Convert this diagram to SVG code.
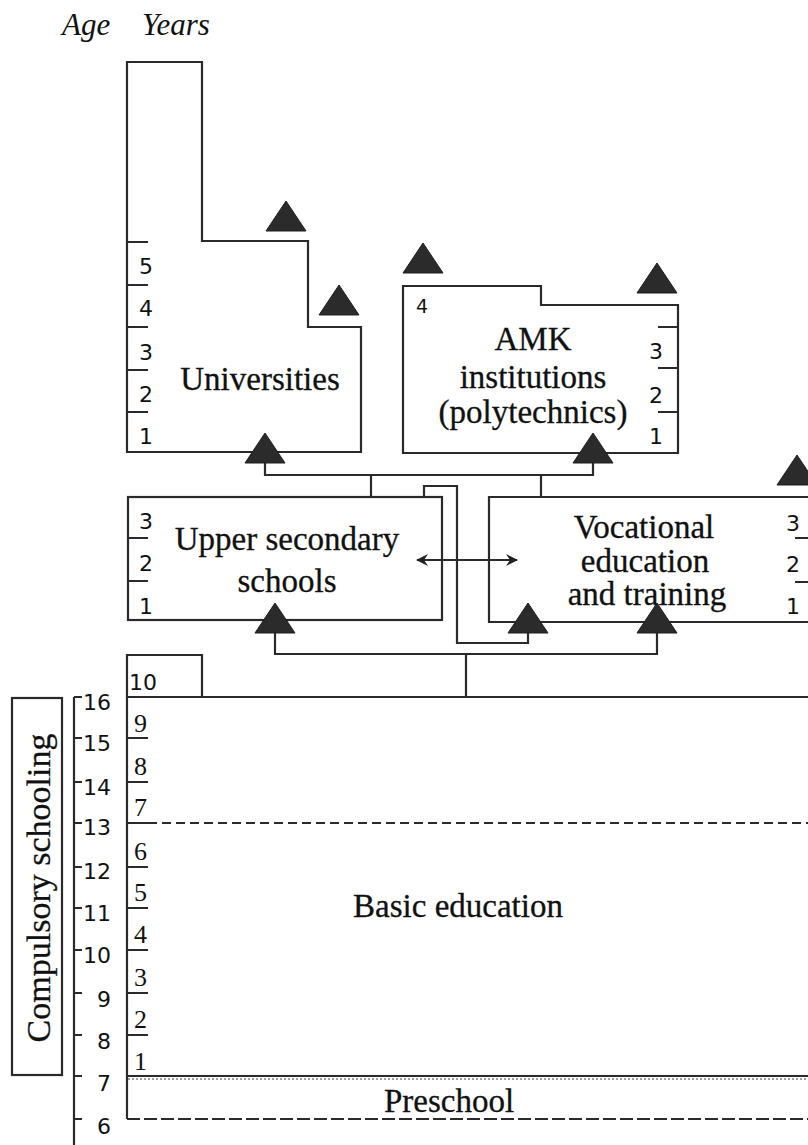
<svg xmlns="http://www.w3.org/2000/svg" xmlns:xlink="http://www.w3.org/1999/xlink" width="808" height="1145" viewBox="0 0 808 1145">
<style>
.ln{fill:none;stroke:#2a2a2a;stroke-width:2.2}
.thin{fill:none;stroke:#444;stroke-width:1}
.lbl{font-family:"Liberation Serif","Times New Roman",serif;font-size:33px;fill:#111;text-anchor:middle;stroke:#111;stroke-width:0.3}
.num{font-family:"DejaVu Sans",Verdana,sans-serif;font-size:22px;fill:#111}
.snum{font-family:"Liberation Serif","Times New Roman",serif;font-size:26px;fill:#111}
.age{font-family:"DejaVu Sans",Verdana,sans-serif;font-size:22px;fill:#111;text-anchor:end}
.ttl{font-family:"Liberation Serif","Times New Roman",serif;font-size:31px;font-style:italic;fill:#111}
.tri{fill:#2b2b2b;stroke:#1e1e1e;stroke-width:1}
</style>
<defs>
<polygon id="tri" points="-20,0 0,-30 20,0"/>
<marker id="ah" viewBox="0 0 12 12" refX="11" refY="6" markerWidth="12" markerHeight="12" orient="auto-start-reverse" markerUnits="userSpaceOnUse">
<path d="M0,0 L12,6 L0,12 L4,6 Z" fill="#222"/>
</marker>
</defs>
<g id="title">
<text class="ttl" x="62" y="35">Age</text>
<text class="ttl" x="142" y="35">Years</text>
</g>
<g id="universities">
<path class="ln" d="M127,452 V62 H202 V241 H308 V327 H361 V452 Z"/>
<path class="ln" d="M127,242 H148 M127,285 H148 M127,327 H148 M127,370 H148 M127,412 H148"/>
<text class="num" x="139" y="274">5</text>
<text class="num" x="139" y="316">4</text>
<text class="num" x="139" y="360">3</text>
<text class="num" x="139" y="402">2</text>
<text class="num" x="139" y="444">1</text>
<text class="lbl" x="260" y="390">Universities</text>
</g>
<g id="amk">
<path class="ln" d="M403,453 V286 H541 V305 H678 V453 Z"/>
<path class="ln" d="M658,327 H678 M658,368 H678 M658,412 H678"/>
<text class="num" x="416" y="313" style="font-size:19px">4</text>
<text class="num" x="649" y="359">3</text>
<text class="num" x="649" y="403">2</text>
<text class="num" x="649" y="444">1</text>
<text class="lbl" x="533" y="350">AMK</text>
<text class="lbl" x="533" y="388">institutions</text>
<text class="lbl" x="533" y="423">(polytechnics)</text>
</g>
<g id="upper-secondary">
<rect class="ln" x="128" y="497" width="314" height="123"/>
<path class="ln" d="M128,538 H148 M128,581 H148"/>
<text class="num" x="139" y="529">3</text>
<text class="num" x="139" y="571">2</text>
<text class="num" x="139" y="614">1</text>
<text class="lbl" x="287" y="550">Upper secondary</text>
<text class="lbl" x="287" y="592">schools</text>
</g>
<g id="vocational">
<path class="ln" d="M808,497 H489 V622 H808"/>
<path class="ln" d="M795,538 H808 M795,582 H808"/>
<text class="num" x="786" y="531">3</text>
<text class="num" x="786" y="572">2</text>
<text class="num" x="786" y="614">1</text>
<text class="lbl" x="644" y="538">Vocational</text>
<text class="lbl" x="645" y="572">education</text>
<text class="lbl" x="647" y="605">and training</text>
</g>
<g id="basic-education">
<path class="ln" d="M127,697 V655 H202 V697"/>
<text class="num" x="129" y="690">10</text>
<path class="ln" d="M808,697 H127 V1076 H808"/>
<path class="ln" d="M127,738 H148 M127,782 H148 M127,823 H148 M127,867 H148 M127,908 H148 M127,950 H148 M127,993 H148 M127,1035 H148"/>
<path class="ln" d="M148,823 H808" stroke-dasharray="9,5"/>
<text class="snum" x="134" y="732">9</text>
<text class="snum" x="134" y="775">8</text>
<text class="snum" x="134" y="816">7</text>
<text class="snum" x="134" y="860">6</text>
<text class="snum" x="134" y="901">5</text>
<text class="snum" x="134" y="943">4</text>
<text class="snum" x="134" y="986">3</text>
<text class="snum" x="134" y="1028">2</text>
<text class="snum" x="134" y="1070">1</text>
<text class="lbl" x="458" y="917">Basic education</text>
</g>
<g id="preschool">
<path class="thin" d="M128,1079 H808" stroke-dasharray="2,2"/>
<path class="ln" d="M127,1076 V1119"/>
<path class="ln" d="M127,1119 H808" stroke-dasharray="13,4"/>
<text class="lbl" x="449" y="1112">Preschool</text>
</g>
<g id="compulsory-schooling">
<rect class="ln" x="12" y="698" width="50" height="377"/>
<text class="lbl" style="font-size:34px" transform="translate(50,888) rotate(-90)" x="0" y="0">Compulsory schooling</text>
</g>
<g id="age-scale">
<path class="ln" d="M74,697 V1145"/>
<path class="ln" d="M74,697 H82 M74,738 H82 M74,782 H82 M74,823 H82 M74,867 H82 M74,908 H82 M74,950 H82 M74,993 H82 M74,1035 H82 M74,1076 H82 M74,1119 H82"/>
<text class="age" x="111" y="710">16</text>
<text class="age" x="111" y="751">15</text>
<text class="age" x="111" y="795">14</text>
<text class="age" x="111" y="835">13</text>
<text class="age" x="111" y="879">12</text>
<text class="age" x="111" y="921">11</text>
<text class="age" x="111" y="963">10</text>
<text class="age" x="111" y="1007">9</text>
<text class="age" x="111" y="1049">8</text>
<text class="age" x="111" y="1091">7</text>
<text class="age" x="111" y="1134">6</text>
</g>
<g id="connectors">
<path class="ln" d="M265,463 V475 H593 V463"/>
<path class="ln" d="M371,475 V497 M541,475 V497"/>
<path class="ln" d="M424,497 V486 H457 V643 H528 V633"/>
<path class="ln" d="M275,633 V654 H657 V633"/>
<path class="ln" d="M466,654 V697"/>
<path class="ln" d="M417,560 H517" marker-start="url(#ah)" marker-end="url(#ah)"/>
<use xlink:href="#tri" class="tri" x="265" y="463"/>
<use xlink:href="#tri" class="tri" x="593" y="463"/>
<use xlink:href="#tri" class="tri" x="275" y="633"/>
<use xlink:href="#tri" class="tri" x="528" y="633"/>
<use xlink:href="#tri" class="tri" x="657" y="633"/>
</g>
<g id="exits">
<use xlink:href="#tri" class="tri" x="286" y="231"/>
<use xlink:href="#tri" class="tri" x="339" y="315"/>
<use xlink:href="#tri" class="tri" x="423" y="273"/>
<use xlink:href="#tri" class="tri" x="657" y="293"/>
<use xlink:href="#tri" class="tri" x="797" y="485"/>
</g>
</svg>
